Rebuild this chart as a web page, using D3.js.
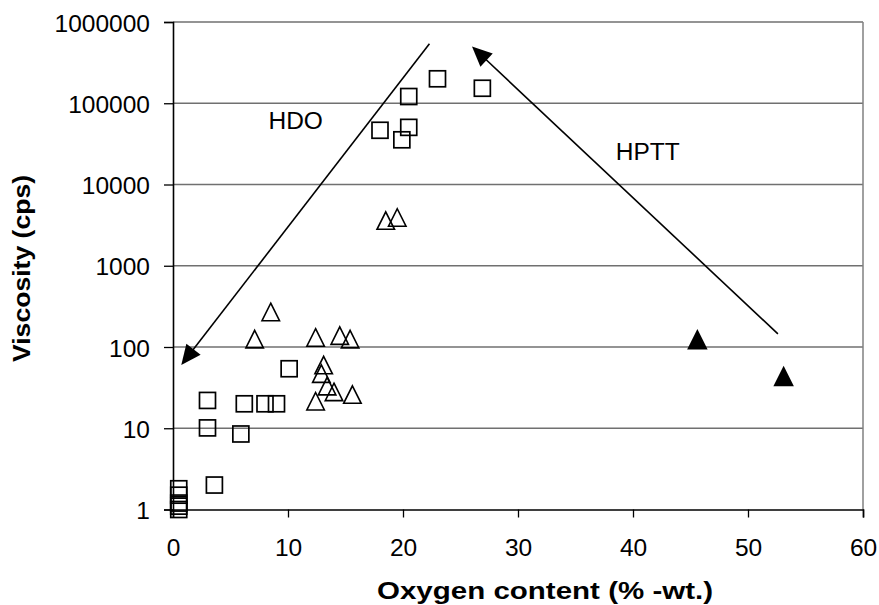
<!DOCTYPE html>
<html>
<head>
<meta charset="utf-8">
<script src="https://cdn.jsdelivr.net/npm/d3@7"></script>
<style>
  html, body { margin: 0; padding: 0; background: #fff; }
  svg { display: block; }
  text { font-family: "Liberation Sans", Arial, sans-serif; fill: #000; }
</style>
</head>
<body>
<svg id="chart" width="879" height="605"></svg>
<script>
// ---- data ----
const xTicks = [0, 10, 20, 30, 40, 50, 60];
const yTicks = [1, 10, 100, 1000, 10000, 100000, 1000000];

// open squares: [oxygen %-wt, viscosity cps]
const squareOxygen = [0.5, 0.5, 0.5, 0.5, 0.5, 3.0, 3.0, 3.6, 5.9, 6.2, 8.0, 9.0, 10.1, 18.0, 19.9, 20.5, 20.5, 23.0, 26.9];
const squareVisc   = [1.0, 1.1, 1.2, 1.5, 1.8, 22, 10.1, 2.0, 8.5, 20, 20, 20, 54, 46500, 35500, 50500, 121000, 200000, 153000];

// open triangles
const triOxygen = [18.5, 19.5, 8.5, 7.1, 12.4, 14.5, 15.4, 13.1, 12.9, 13.4, 14.0, 12.4, 15.6];
const triVisc   = [3600, 3925, 270, 125, 131, 138, 125, 60, 47, 33, 28, 21.5, 26];

// filled triangles
const filledOxygen = [45.6, 53.1];
const filledVisc   = [125, 44];

// arrows: [from oxygen, from visc] -> [to oxygen, to visc]
const arrowNames = ["HDO", "HPTT"];
const arrowFrom = [[22.3, 540000], [52.6, 145]];
const arrowTo   = [[0.72, 60], [26.0, 500000]];
const arrowLabelPos = [[8.3, 48000], [38.5, 20000]];

// ---- layout ----
const svg = d3.select("#chart");
const x = d3.scaleLinear().domain([0, 60]).range([173, 863]);
const y = d3.scaleLog().domain([1, 1000000]).range([509.5, 22]);

// gridlines
svg.append("g").selectAll("line")
  .data(yTicks.filter(v => v > 1))
  .join("line")
  .attr("x1", x(0)).attr("x2", x(60))
  .attr("y1", d => y(d)).attr("y2", d => y(d))
  .attr("stroke", "#707070").attr("stroke-width", 1.3);

// right border
svg.append("line")
  .attr("x1", x(60)).attr("x2", x(60))
  .attr("y1", y(1000000)).attr("y2", y(1))
  .attr("stroke", "#808080").attr("stroke-width", 1.5);

// axes
const yAxis = d3.axisLeft(y).tickValues(yTicks).tickFormat(d3.format("d")).tickSize(9).tickPadding(14);
const gy = svg.append("g").attr("transform", `translate(${x(0)},0)`).call(yAxis);
gy.select(".domain").attr("stroke", "#000").attr("stroke-width", 1.6);
gy.selectAll(".tick line").attr("stroke", "#000").attr("stroke-width", 1.3);
gy.selectAll(".tick text").attr("font-size", 24.5).attr("font-family", "Liberation Sans, Arial, sans-serif").attr("dy", "0.37em");

const xAxis = d3.axisBottom(x).tickValues(xTicks).tickSize(8).tickPadding(21);
const gx = svg.append("g").attr("transform", `translate(0,${y(1)})`).call(xAxis);
gx.select(".domain").attr("stroke", "#000").attr("stroke-width", 1.6);
gx.selectAll(".tick line").attr("stroke", "#000").attr("stroke-width", 1.3);
gx.selectAll(".tick text").attr("font-size", 24.5).attr("font-family", "Liberation Sans, Arial, sans-serif");

// axis titles
function stretch(sel, len) {
  sel.attr("textLength", len).attr("lengthAdjust", "spacingAndGlyphs");
}
const xt = svg.append("text")
  .attr("x", 545).attr("y", 599)
  .attr("text-anchor", "middle")
  .attr("font-weight", "bold").attr("font-size", 23)
  .text("Oxygen content (% -wt.)");
stretch(xt, 336);

const yt = svg.append("text")
  .attr("transform", "translate(30,268.5) rotate(-90)")
  .attr("text-anchor", "middle")
  .attr("font-weight", "bold").attr("font-size", 23)
  .text("Viscosity (cps)");
stretch(yt, 187);

// markers
const squares = squareOxygen.map((o, i) => [o, squareVisc[i]]);
const tris = triOxygen.map((o, i) => [o, triVisc[i]]);
const filled = filledOxygen.map((o, i) => [o, filledVisc[i]]);

svg.append("g").selectAll("rect")
  .data(squares).join("rect")
  .attr("x", d => x(d[0]) - 8).attr("y", d => y(d[1]) - 8)
  .attr("width", 16).attr("height", 16)
  .attr("fill", "none").attr("stroke", "#000").attr("stroke-width", 1.7);

const triPath = (w, h) => `M0,${-h/2}L${w/2},${h/2}L${-w/2},${h/2}Z`;
svg.append("g").selectAll("path")
  .data(tris).join("path")
  .attr("transform", d => `translate(${x(d[0])},${y(d[1])})`)
  .attr("d", triPath(17.5, 17.5))
  .attr("fill", "none").attr("stroke", "#000").attr("stroke-width", 1.6)
  .attr("stroke-linejoin", "miter");

svg.append("g").selectAll("path")
  .data(filled).join("path")
  .attr("transform", d => `translate(${x(d[0])},${y(d[1])})`)
  .attr("d", triPath(20.5, 20.5))
  .attr("fill", "#000");

// arrows
const headLen = 20, headHalf = 9;
arrowFrom.forEach((f, i) => {
  const x1 = x(f[0]), y1 = y(f[1]);
  const x2 = x(arrowTo[i][0]), y2 = y(arrowTo[i][1]);
  const dx = x2 - x1, dy = y2 - y1, L = Math.hypot(dx, dy);
  const ux = dx / L, uy = dy / L;
  const bx = x2 - ux * headLen, by = y2 - uy * headLen;
  svg.append("line")
    .attr("x1", x1).attr("y1", y1).attr("x2", bx + ux * 2).attr("y2", by + uy * 2)
    .attr("stroke", "#000").attr("stroke-width", 1.6);
  svg.append("path")
    .attr("d", `M${x2},${y2}L${bx - uy * headHalf},${by + ux * headHalf}L${bx + uy * headHalf},${by - ux * headHalf}Z`)
    .attr("fill", "#000");
  svg.append("text")
    .attr("x", x(arrowLabelPos[i][0])).attr("y", y(arrowLabelPos[i][1]))
    .attr("font-size", 24.5)
    .text(arrowNames[i]);
});
</script>
</body>
</html>
